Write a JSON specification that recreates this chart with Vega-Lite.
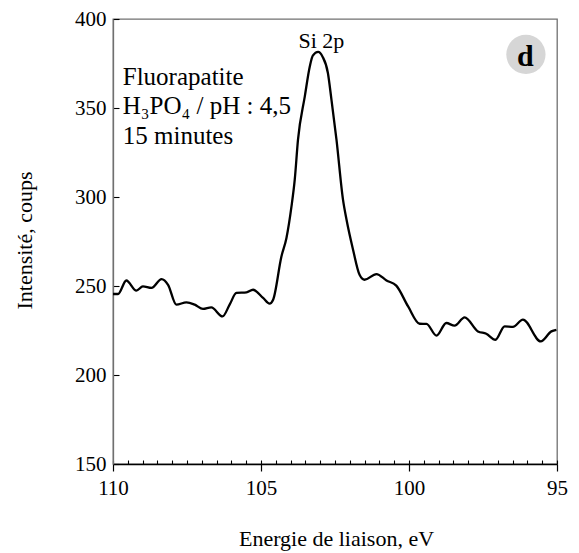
{
  "$schema": "https://vega.github.io/schema/vega-lite/v6.json",
  "width": 444,
  "height": 445,
  "autosize": "none",
  "padding": {"left": 113, "top": 19, "right": 22, "bottom": 89},
  "config": {
    "font": "Liberation Serif",
    "view": {"stroke": "#707070", "strokeWidth": 1.3},
    "axis": {
      "labelFont": "Liberation Serif",
      "titleFont": "Liberation Serif",
      "labelColor": "black",
      "titleColor": "black",
      "titleFontWeight": "normal",
      "grid": false
    }
  },
  "datasets": {
    "spectrum": [
      {"energy": 110.0, "counts": 245.5},
      {"energy": 109.83, "counts": 245.5},
      {"energy": 109.55, "counts": 253.1},
      {"energy": 109.21, "counts": 247.4},
      {"energy": 108.99, "counts": 249.8},
      {"energy": 108.70, "counts": 248.9},
      {"energy": 108.36, "counts": 253.9},
      {"energy": 108.14, "counts": 250.7},
      {"energy": 107.86, "counts": 239.5},
      {"energy": 107.52, "counts": 240.8},
      {"energy": 107.24, "counts": 239.5},
      {"energy": 106.96, "counts": 237.1},
      {"energy": 106.68, "counts": 238.0},
      {"energy": 106.30, "counts": 232.9},
      {"energy": 106.06, "counts": 239.5},
      {"energy": 105.83, "counts": 246.1},
      {"energy": 105.49, "counts": 246.4},
      {"energy": 105.27, "counts": 247.9},
      {"energy": 104.93, "counts": 243.3},
      {"energy": 104.71, "counts": 240.1},
      {"energy": 104.59, "counts": 242.3},
      {"energy": 104.31, "counts": 266.6},
      {"energy": 104.14, "counts": 277.0},
      {"energy": 103.97, "counts": 294.7},
      {"energy": 103.86, "counts": 309.7},
      {"energy": 103.75, "counts": 332.2},
      {"energy": 103.52, "counts": 356.5},
      {"energy": 103.35, "counts": 373.4},
      {"energy": 103.25, "counts": 379.4},
      {"energy": 103.07, "counts": 381.5},
      {"energy": 102.92, "counts": 378.8},
      {"energy": 102.74, "counts": 369.7},
      {"energy": 102.62, "counts": 354.7},
      {"energy": 102.45, "counts": 332.2},
      {"energy": 102.23, "counts": 298.5},
      {"energy": 102.11, "counts": 287.2},
      {"energy": 101.89, "counts": 270.4},
      {"energy": 101.67, "counts": 256.3},
      {"energy": 101.50, "counts": 253.5},
      {"energy": 101.10, "counts": 256.7},
      {"energy": 100.76, "counts": 253.1},
      {"energy": 100.43, "counts": 250.2},
      {"energy": 100.03, "counts": 238.5},
      {"energy": 99.64, "counts": 228.8},
      {"energy": 99.41, "counts": 228.7},
      {"energy": 99.07, "counts": 222.1},
      {"energy": 98.74, "counts": 229.2},
      {"energy": 98.46, "counts": 227.7},
      {"energy": 98.12, "counts": 232.4},
      {"energy": 97.67, "counts": 224.5},
      {"energy": 97.39, "counts": 223.2},
      {"energy": 97.08, "counts": 219.8},
      {"energy": 96.77, "counts": 227.3},
      {"energy": 96.49, "counts": 227.0},
      {"energy": 96.15, "counts": 231.1},
      {"energy": 95.55, "counts": 218.9},
      {"energy": 95.19, "counts": 224.5},
      {"energy": 95.02, "counts": 225.4}
    ],
    "badge": [{"energy": 96.05, "counts": 380.1}]
  },
  "resolve": {"axis": {"x": "independent", "y": "independent"}},
  "layer": [
    {
      "data": {"name": "spectrum"},
      "mark": {"type": "point", "opacity": 0},
      "encoding": {
        "x": {
          "field": "energy", "type": "quantitative",
          "scale": {"domain": [110, 95], "nice": false, "zero": false},
          "axis": {
            "orient": "top", "offset": -445, "labels": false, "domain": false,
            "ticks": true, "tickSize": 4, "tickColor": "black", "tickWidth": 1.1,
            "title": null,
            "values": [110, 109.5, 109, 108.5, 108, 107.5, 107, 106.5, 106, 105.5, 105, 104.5, 104, 103.5, 103, 102.5, 102, 101.5, 101, 100.5, 100, 99.5, 99, 98.5, 98, 97.5, 97, 96.5, 96, 95.5, 95]
          }
        },
        "y": {
          "field": "counts", "type": "quantitative",
          "scale": {"domain": [150, 400], "nice": false, "zero": false},
          "axis": {
            "orient": "right", "offset": -444, "labels": false, "domain": false,
            "ticks": true, "tickSize": 6, "tickColor": "black", "tickWidth": 1.1,
            "title": null,
            "values": [150, 200, 250, 300, 350, 400]
          }
        }
      }
    },
    {
      "data": {"name": "spectrum"},
      "mark": {"type": "line", "interpolate": "monotone", "color": "black", "strokeWidth": 2.3},
      "encoding": {
        "x": {
          "field": "energy", "type": "quantitative",
          "axis": {
            "orient": "bottom",
            "values": [110, 105, 100, 95],
            "tickSize": 7, "tickColor": "black", "tickWidth": 1.2,
            "domainColor": "black", "domainWidth": 1.3,
            "labelPadding": 6, "labelFontSize": 21, "labelFlush": false, "labelOverlap": false,
            "title": "Energie de liaison, eV", "titleFontSize": 22,
            "titleX": 223, "titleY": 74, "titleBaseline": "middle", "titleAlign": "center"
          }
        },
        "y": {
          "field": "counts", "type": "quantitative",
          "axis": {
            "orient": "left",
            "values": [150, 200, 250, 300, 350, 400],
            "ticks": false,
            "domainColor": "#707070", "domainWidth": 1.3,
            "labelPadding": 7, "labelFontSize": 21, "labelFlush": false, "labelOverlap": false,
            "title": "Intensité, coups", "titleFontSize": 22,
            "titleX": -89, "titleY": 221, "titleBaseline": "middle", "titleAlign": "center", "titleAngle": -90
          }
        },
        "order": {"field": "energy", "sort": "descending"}
      }
    },
    {
      "data": {"name": "badge"},
      "mark": {"type": "point", "filled": true, "color": "#d6d6d6", "opacity": 1, "size": 1540},
      "encoding": {
        "x": {"field": "energy", "type": "quantitative", "axis": null},
        "y": {"field": "counts", "type": "quantitative", "axis": null}
      }
    },
    {
      "data": {"values": [{}]},
      "mark": {"type": "text", "text": "d", "font": "Liberation Serif", "fontSize": 30, "fontWeight": "bold", "align": "center", "baseline": "alphabetic", "color": "black"},
      "encoding": {
        "x": {"datum": 96.07, "type": "quantitative", "axis": null},
        "y": {"datum": 373.4, "type": "quantitative", "axis": null}
      }
    },
    {
      "data": {"values": [{}]},
      "mark": {"type": "text", "text": "Si 2p", "font": "Liberation Serif", "fontSize": 22, "align": "center", "baseline": "alphabetic", "color": "black"},
      "encoding": {
        "x": {"datum": 102.96, "type": "quantitative", "axis": null},
        "y": {"datum": 383.7, "type": "quantitative", "axis": null}
      }
    },
    {
      "data": {"values": [{}]},
      "mark": {"type": "text", "text": "Fluorapatite", "font": "Liberation Serif", "fontSize": 25, "align": "left", "baseline": "alphabetic", "color": "black"},
      "encoding": {
        "x": {"datum": 109.67, "type": "quantitative", "axis": null},
        "y": {"datum": 362.7, "type": "quantitative", "axis": null}
      }
    },
    {
      "data": {"values": [{}]},
      "mark": {"type": "text", "text": "H₃PO₄ / pH : 4,5", "font": "Liberation Serif", "fontSize": 25, "align": "left", "baseline": "alphabetic", "color": "black"},
      "encoding": {
        "x": {"datum": 109.67, "type": "quantitative", "axis": null},
        "y": {"datum": 346.8, "type": "quantitative", "axis": null}
      }
    },
    {
      "data": {"values": [{}]},
      "mark": {"type": "text", "text": "15 minutes", "font": "Liberation Serif", "fontSize": 25, "align": "left", "baseline": "alphabetic", "color": "black"},
      "encoding": {
        "x": {"datum": 109.67, "type": "quantitative", "axis": null},
        "y": {"datum": 329.7, "type": "quantitative", "axis": null}
      }
    }
  ]
}
